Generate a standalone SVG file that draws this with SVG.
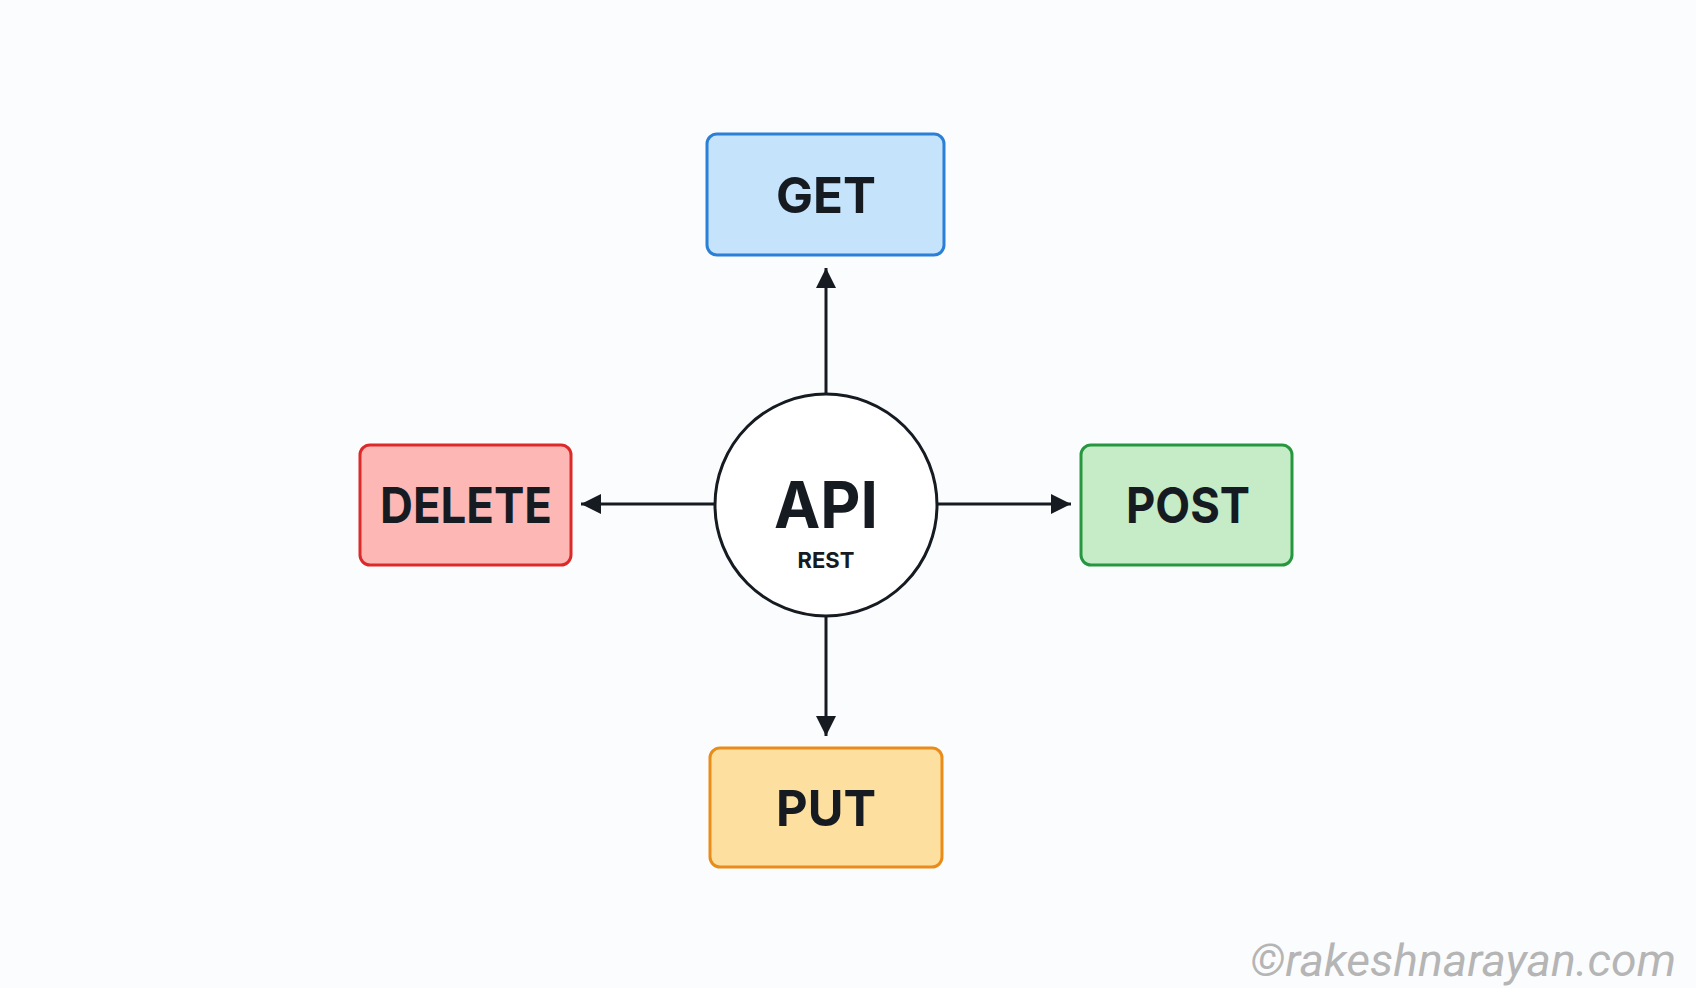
<svg xmlns="http://www.w3.org/2000/svg" width="1696" height="988" viewBox="0 0 1696 988">
<style>
.box{stroke-width:3}
.lbl{font-family:Inter,"Liberation Sans",sans-serif;font-weight:700;fill:#161b22;text-anchor:middle}
.c{stroke:#161b22;stroke-width:3;fill:none}
</style>
<defs><marker id="a" viewBox="0 0 20 20" refX="20" refY="10" markerWidth="20" markerHeight="20" orient="auto" markerUnits="userSpaceOnUse"><path d="M0,0 L20,10 L0,20 Z" fill="#161b22"/></marker></defs>
<rect width="1696" height="988" fill="#fbfcfd"/>
<g id="connectors">
<line class="c" x1="826" y1="394" x2="826" y2="268" marker-end="url(#a)"/>
<line class="c" x1="714" y1="504" x2="581" y2="504" marker-end="url(#a)"/>
<line class="c" x1="937" y1="504" x2="1071" y2="504" marker-end="url(#a)"/>
<line class="c" x1="826" y1="616" x2="826" y2="736" marker-end="url(#a)"/>
</g>
<g id="api"><circle cx="826" cy="505" r="111" fill="#fff" stroke="#161b22" stroke-width="3"/>
<text class="lbl" x="826" y="528" font-size="64" textLength="104" lengthAdjust="spacingAndGlyphs">API</text>
<text class="lbl" x="826" y="568" font-size="22">REST</text></g>
<g id="get"><rect class="box" x="707" y="134" width="237" height="121" rx="10" fill="#c5e3fb" stroke="#2a7fd6"/><text class="lbl" x="826" y="213" font-size="50" textLength="100" lengthAdjust="spacingAndGlyphs">GET</text></g>
<g id="delete"><rect class="box" x="360" y="445" width="211" height="120" rx="10" fill="#fdb8b6" stroke="#dc2a2a"/><text class="lbl" x="466" y="523" font-size="50" textLength="172" lengthAdjust="spacingAndGlyphs">DELETE</text></g>
<g id="post"><rect class="box" x="1081" y="445" width="211" height="120" rx="10" fill="#c5ebc7" stroke="#27973f"/><text class="lbl" x="1188" y="523" font-size="50" textLength="124" lengthAdjust="spacingAndGlyphs">POST</text></g>
<g id="put"><rect class="box" x="710" y="748" width="232" height="119" rx="10" fill="#fde0a0" stroke="#ea8c1a"/><text class="lbl" x="826" y="826" font-size="50" textLength="100" lengthAdjust="spacingAndGlyphs">PUT</text></g>
<text x="1676" y="976" font-family="Roboto,'Liberation Sans',sans-serif" font-style="italic" font-size="44" fill="#b5b5b5" text-anchor="end" textLength="426" lengthAdjust="spacingAndGlyphs">©rakeshnarayan.com</text>
</svg>
